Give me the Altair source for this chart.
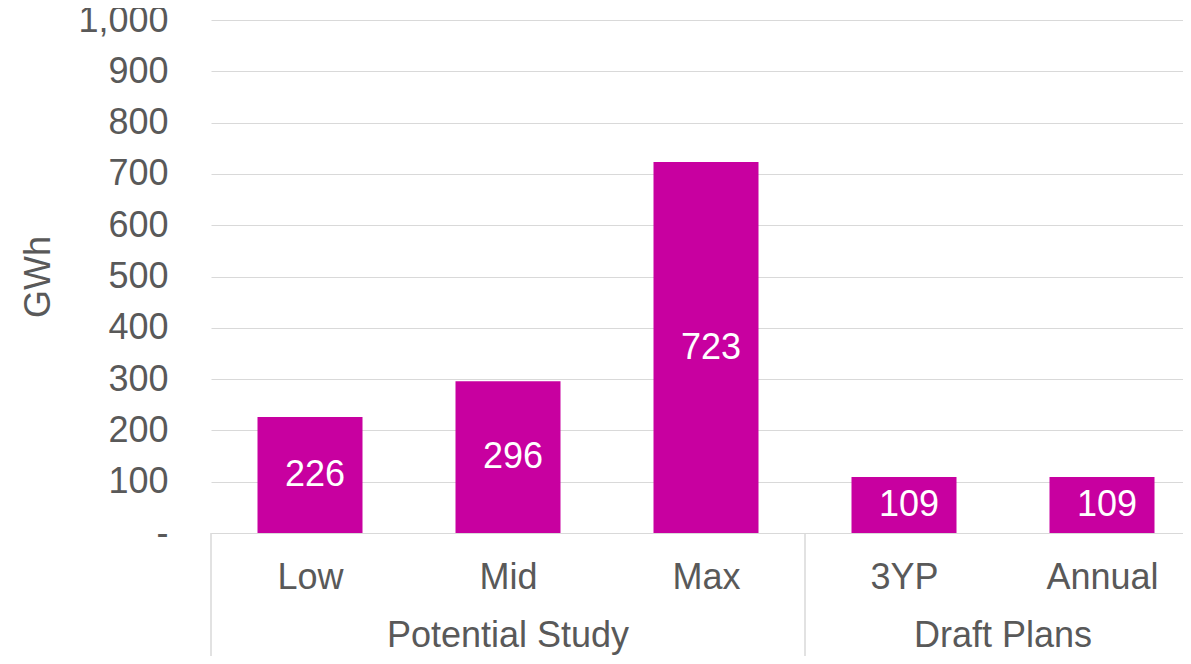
import altair as alt
import pandas as pd
import json

categories = ["Low", "Mid", "Max", "3YP", "Annual"]
groups = ["Potential Study", "Potential Study", "Potential Study", "Draft Plans", "Draft Plans"]
values = [226, 296, 723, 109, 109]
y_ticks = [0, 100, 200, 300, 400, 500, 600, 700, 800, 900, 1000]

df = pd.DataFrame({
    "category": categories,
    "group": groups,
    "value": values,
    "idx": list(range(len(categories))),
})

bounds = []
for i, g in enumerate(groups):
    if i == 0 or groups[i - 1] != g:
        bounds.append(i - 0.5)
bounds.append(len(groups) - 0.5)
sep_df = pd.DataFrame({"pos": bounds})

FONT = "Liberation Sans"
GREY = "#595959"
GRID = "#d9d9d9"
BAR = "#C800A0"
FS = 36

PLOT_W = 972
STEP = 198  # pixel width of one category slot
# the reference crops the last category slightly at the right edge
xscale = alt.Scale(domain=[-0.5, -0.5 + PLOT_W / STEP], nice=False, zero=False, padding=0)
yscale = alt.Scale(domain=[0, 1000], nice=False)

x_label_expr = json.dumps(categories) + "[datum.value]"
y_label_expr = "datum.value == 0 ? '-\u00a0\u00a0' : format(datum.value, ',')"

base = alt.Chart(df)

yaxis = alt.Axis(
    values=y_ticks,
    labelExpr=y_label_expr,
    title="GWh",
    grid=True,
    gridColor=GRID,
    gridWidth=1,
    domain=False,
    ticks=False,
    labelPadding=43,
    labelFontSize=FS,
    labelColor=GREY,
    labelFont=FONT,
    labelOverlap=False,
    titleFont=FONT,
    titleFontSize=FS,
    titleColor=GREY,
    titleFontWeight="normal",
    titlePadding=20,
)

bars = base.mark_bar(size=105, color=BAR).encode(
    x=alt.X(
        "idx:Q",
        scale=xscale,
        axis=alt.Axis(
            values=list(range(len(categories))),
            labelExpr=x_label_expr,
            title=None,
            grid=False,
            ticks=False,
            domainColor=GRID,
            domainWidth=1,
            labelPadding=44,
            labelBaseline="middle",
            labelFontSize=FS,
            labelColor=GREY,
            labelFont=FONT,
            labelFlush=False,
            labelOverlap=False,
            labelBound=False,
        ),
    ),
    y=alt.Y("value:Q", scale=yscale, axis=yaxis, title="GWh"),
)

labels = base.transform_calculate(mid="datum.value / 2").mark_text(
    color="white", fontSize=FS, font=FONT, baseline="middle", align="center", dx=5
).encode(
    x=alt.X("idx:Q", scale=xscale, title=None),
    y=alt.Y("mid:Q", scale=yscale, title="GWh"),
    text=alt.Text("value:Q"),
)

group_labels = base.transform_aggregate(
    center="mean(idx)", groupby=["group"]
).mark_text(
    color=GREY, fontSize=FS, font=FONT, baseline="middle", align="center"
).encode(
    x=alt.X("center:Q", scale=xscale, title=None),
    y=alt.value(616),
    text="group:N",
)

seps = alt.Chart(sep_df).mark_rule(color=GRID, strokeWidth=1.5).encode(
    x=alt.X("pos:Q", scale=xscale, title=None),
    y=alt.value(513),
    y2=alt.value(700),
)

chart = alt.layer(bars, labels, seps, group_labels).properties(
    width=PLOT_W,
    height=513,
    padding={"left": 203, "top": 12, "right": 0, "bottom": 123},
    autosize=alt.AutoSizeParams(type="none"),
    background="white",
).configure_view(stroke=None)

chart.save("out.html", embed_options={"renderer": "svg", "actions": False})
